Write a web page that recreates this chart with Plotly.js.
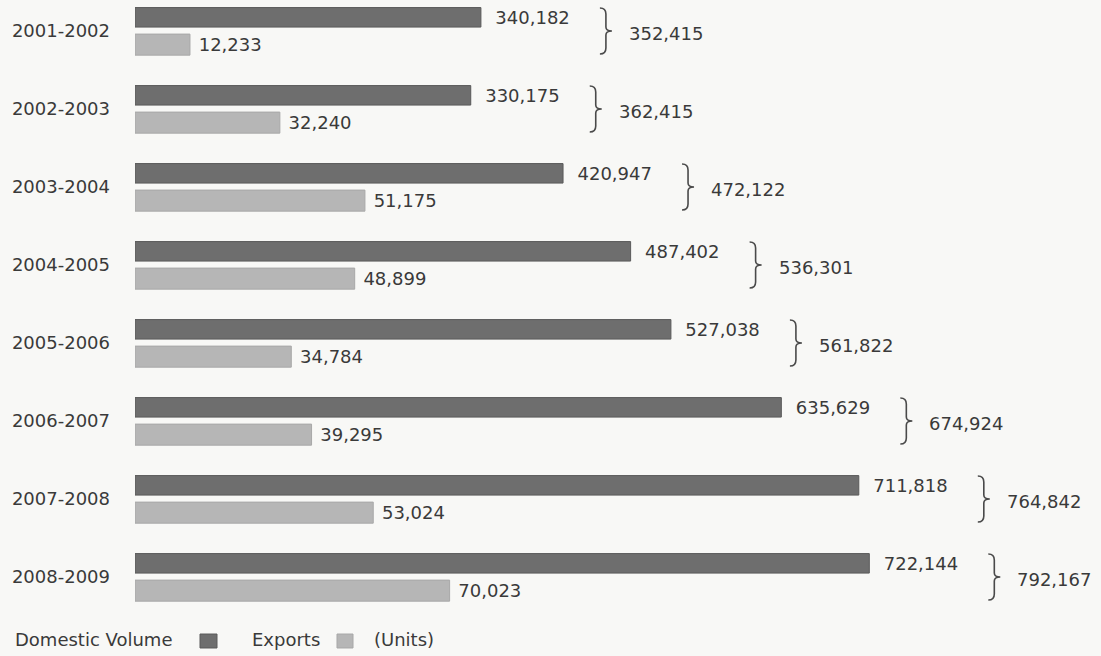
<!DOCTYPE html>
<html>
<head>
<meta charset="utf-8">
<script src="https://cdn.plot.ly/plotly-3.0.1.min.js"></script>
<style>
  html, body { margin: 0; padding: 0; background: #f8f8f6; }
  #chart { width: 1101px; height: 656px; }
</style>
</head>
<body>
<div id="chart"></div>
<script>
// ---- Data ----
const categories = ['2001-2002', '2002-2003', '2003-2004', '2004-2005', '2005-2006', '2006-2007', '2007-2008', '2008-2009'];
const domesticVolume = [340182, 330175, 420947, 487402, 527038, 635629, 711818, 722144];
const exportsVolume = [12233, 32240, 51175, 48899, 34784, 39295, 53024, 70023];
const seriesNames = ['Domestic Volume', 'Exports'];
const unitsLabel = '(Units)';

// totals derived from the two series
const totals = domesticVolume.map((d, i) => d + exportsVolume[i]);

const FONT = 'DejaVu Sans, Arial, sans-serif';
const TEXT_COLOR = '#3a3a3a';
const DARK = '#6e6e6e';
const LIGHT = '#b6b6b6';
const BG = '#f8f8f6';

const fmt = v => v.toLocaleString('en-US');

const traces = [
  {
    type: 'bar', orientation: 'h', name: seriesNames[0],
    y: categories, x: domesticVolume, xaxis: 'x', yaxis: 'y',
    width: 0.25, offset: -0.30,
    marker: { color: DARK, line: { color: '#5a5a5a', width: 1 } },
    texttemplate: '\u00a0\u00a0%{x:,}', textposition: 'outside',
    textfont: { family: FONT, size: 18, color: TEXT_COLOR },
    constraintext: 'none', cliponaxis: false, hoverinfo: 'skip'
  },
  {
    type: 'bar', orientation: 'h', name: seriesNames[1],
    y: categories, x: exportsVolume, xaxis: 'x2', yaxis: 'y',
    width: 0.27, offset: 0.04,
    marker: { color: LIGHT, line: { color: '#a8a8a8', width: 1 } },
    texttemplate: '\u00a0%{x:,}', textposition: 'outside',
    textfont: { family: FONT, size: 18, color: TEXT_COLOR },
    constraintext: 'none', cliponaxis: false, hoverinfo: 'skip'
  }
];

// brace geometry (pixels, relative to the end of the domestic bar)
const BX = 119, BW = 12, BH = 23, MX = BX + BW / 2;
const bracePath =
  `M ${BX},${BH} Q ${MX},${BH} ${MX},${BH - 6} L ${MX},4 Q ${MX},0 ${BX + BW},0 ` +
  `Q ${MX},0 ${MX},-4 L ${MX},${-BH + 6} Q ${MX},${-BH} ${BX},${-BH}`;

const annotations = [];
const shapes = [];
categories.forEach((c, i) => {
  shapes.push({
    type: 'path', xref: 'x', yref: 'y',
    xsizemode: 'pixel', ysizemode: 'pixel',
    xanchor: domesticVolume[i], yanchor: c,
    path: bracePath,
    line: { color: '#4a4a4a', width: 1.6 }
  });
  annotations.push({
    x: domesticVolume[i], y: c, xref: 'x', yref: 'y',
    text: fmt(totals[i]), showarrow: false, xanchor: 'left', yanchor: 'middle',
    xshift: 146, yshift: -3,
    font: { family: FONT, size: 18, color: TEXT_COLOR }
  });
});

// legend row (text first, swatch after, as in the original)
const legY = 0.0244;
annotations.push(
  { xref: 'paper', yref: 'paper', x: -0.1263, y: legY, xanchor: 'left', yanchor: 'middle',
    text: seriesNames[0], showarrow: false, font: { family: FONT, size: 18, color: TEXT_COLOR } },
  { xref: 'paper', yref: 'paper', x: 0.119, y: legY, xanchor: 'left', yanchor: 'middle',
    text: seriesNames[1], showarrow: false, font: { family: FONT, size: 18, color: TEXT_COLOR } },
  { xref: 'paper', yref: 'paper', x: 0.2453, y: legY, xanchor: 'left', yanchor: 'middle',
    text: unitsLabel, showarrow: false, font: { family: FONT, size: 18, color: TEXT_COLOR } }
);

shapes.push(
  { type: 'rect', xref: 'paper', yref: 'paper', x0: 0.0673, x1: 0.0849, y0: 0.0122, y1: 0.0335,
    fillcolor: DARK, line: { color: '#5a5a5a', width: 1 } },
  { type: 'rect', xref: 'paper', yref: 'paper', x0: 0.2091, x1: 0.2257, y0: 0.0122, y1: 0.0335,
    fillcolor: LIGHT, line: { color: '#a8a8a8', width: 1 } }
);

const layout = {
  width: 1101, height: 656,
  margin: { l: 135, r: 0, t: 0, b: 0, pad: 0 },
  paper_bgcolor: BG, plot_bgcolor: BG,
  showlegend: false,
  barmode: 'group',
  xaxis: { range: [0, 950000], visible: false, showgrid: false, zeroline: false, fixedrange: true },
  xaxis2: { range: [0, 215000], overlaying: 'x', visible: false, showgrid: false, zeroline: false, fixedrange: true },
  yaxis: {
    type: 'category', range: [8.013, -0.397],
    showgrid: false, zeroline: false, showline: false, ticks: '',
    ticklabelstandoff: 24,
    tickfont: { family: FONT, size: 18, color: TEXT_COLOR },
    fixedrange: true
  },
  annotations: annotations,
  shapes: shapes
};

Plotly.newPlot('chart', traces, layout, { displayModeBar: false, staticPlot: true });
</script>
</body>
</html>
